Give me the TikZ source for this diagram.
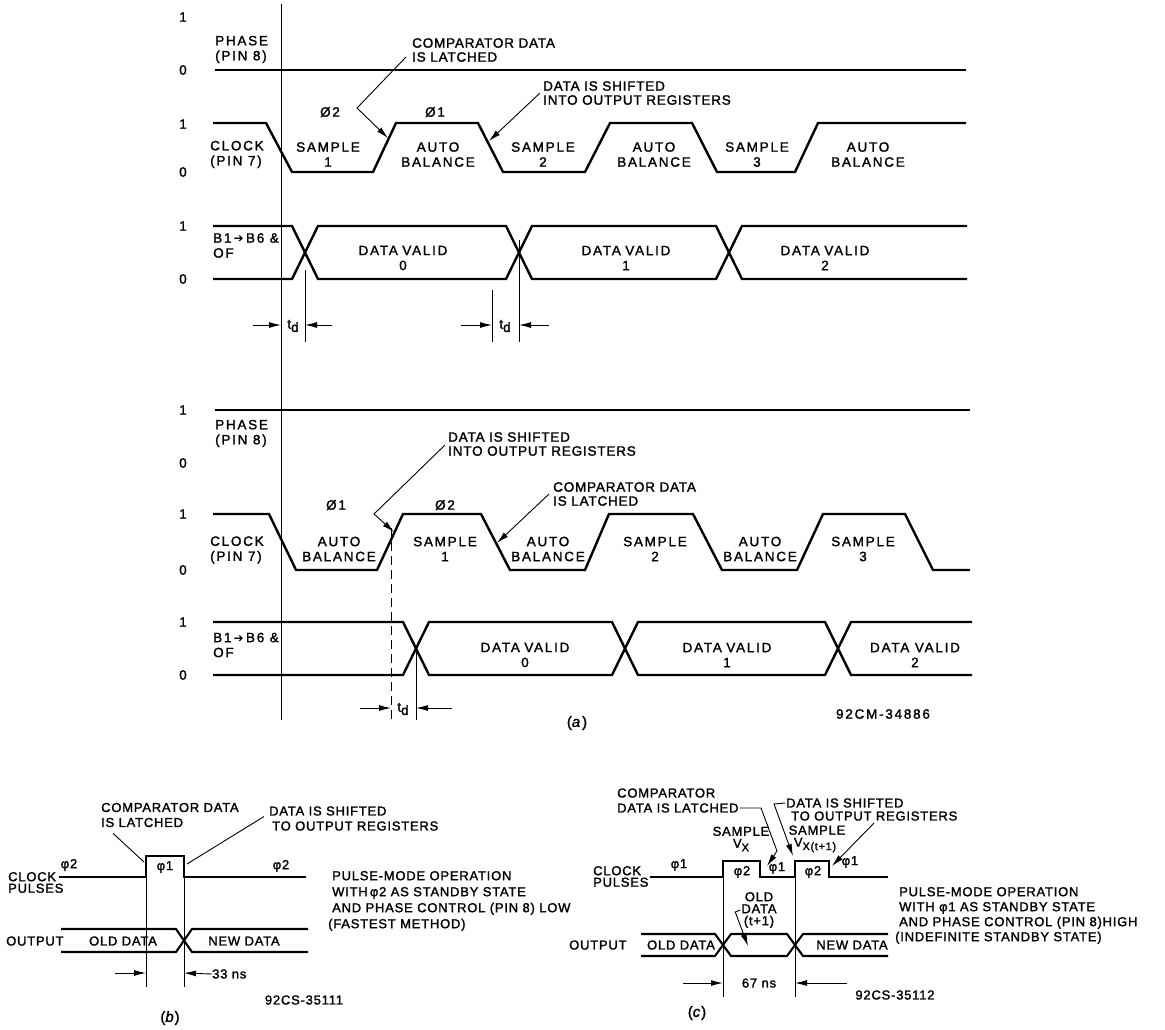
\documentclass[tikz,border=0pt]{standalone}
\usepackage{fontspec}
\setmainfont{Liberation Sans}
\newfontfamily\wavefont[LetterSpace=13,FakeBold=1.6]{Liberation Sans}
\newfontfamily\notefont[LetterSpace=6,FakeBold=1.6]{Liberation Sans}
\newfontfamily\arrowfont{DejaVu Sans}
\usetikzlibrary{arrows.meta}

\newcommand{\tdlabel}{t\raisebox{-0.45ex}{d}}
\newcommand{\busname}{B1\,{\arrowfont\fontsize{12}{12}\selectfont ➔}\,B6 \&}

\tikzset{
  wave/.style={line width=2.4pt, line join=miter},
  wavesm/.style={line width=2.1pt, line join=miter},
  thinline/.style={line width=0.9pt},
  arr/.style={-{Latex[length=12pt,width=6pt]}},
  lbl/.style={inner sep=0pt, align=center, font=\wavefont\fontsize{13.5}{15}\selectfont},
  note/.style={inner sep=0pt, align=left, font=\notefont\fontsize{13.5}{14}\selectfont},
  noteb/.style={inner sep=0pt, align=center, font=\notefont\fontsize{13}{15}\selectfont},
}

\begin{document}
\begin{tikzpicture}[x=1pt,y=-1pt]
    \useasboundingbox (0,0) rectangle (1165,1029);

    %levels
    \foreach \y in {17,124,226,410,514,622} \node[lbl] at (183,\y) {1};
    \foreach \y in {70,172,279,463,570,675} \node[lbl] at (183,\y) {0};

    %reference line
    \draw[thinline] (281,4) -- (281,720);

    %(a) upper: phase low
    \node[lbl, anchor=west, align=left] (ph1) at (215,49.5) {PHASE\\(PIN 8)};
    \draw[wave] (215,70) -- (966,70);

    \node[lbl, anchor=west, align=left] (ck1) at (210,154.5) {CLOCK\\(PIN 7)};
    \draw[wave] (213,123) -- (266,123) -- (292,172) -- (373,172) -- (396,123) -- (478,123) -- (503,172)
        -- (585,172) -- (610,123) -- (692,123) -- (717,172) -- (795,172) -- (818,123) -- (966,123);
    \node[lbl] (s1) at (328,154.5) {SAMPLE\\1};
    \node[lbl] (b1) at (438,154.5) {AUTO\\BALANCE};
    \node[lbl] (s2) at (543,154.5) {SAMPLE\\2};
    \node[lbl] (b2) at (654,154.5) {AUTO\\BALANCE};
    \node[lbl] (s3) at (757,154.5) {SAMPLE\\3};
    \node[lbl] (b3) at (868,154.5) {AUTO\\BALANCE};
    \node[lbl] (p2) at (330,112) {Ø2};
    \node[lbl] (p1) at (435,112) {Ø1};

    %leaders
    \node[note, anchor=west] (lat1) at (412,50) {COMPARATOR DATA\\IS LATCHED};
    \coordinate (e1) at (388,138);
    \draw[thinline, arr] ([shift={(-6,7)}]lat1.west) -- (357,108) -- (e1);
    \node[note, anchor=west] (sh1) at (543,93) {DATA IS SHIFTED\\INTO OUTPUT REGISTERS};
    \coordinate (e2) at (489,141);
    \draw[thinline, arr] ([shift={(-3,0)}]sh1.west) -- (e2);

    %data bus
    \node[lbl, anchor=west, align=left] (bus1) at (213,245.5) {\busname\\OF};
    \draw[wave] (213,226) -- (292,226) -- (305,252.5) -- (318,226) -- (506,226) -- (519,252.5) -- (532,226)
        -- (716,226) -- (729,252.5) -- (742,226) -- (967,226);
    \draw[wave] (213,279) -- (292,279) -- (305,252.5) -- (318,279) -- (506,279) -- (519,252.5) -- (532,279)
        -- (716,279) -- (729,252.5) -- (742,279) -- (967,279);
    \node[lbl] (d0) at (403,258) {DATA\,\,VALID\\0};
    \node[lbl] (d1) at (626,258) {DATA\,\,VALID\\1};
    \node[lbl] (d2) at (825,258) {DATA\,\,VALID\\2};

    %t_d
    \draw[thinline] (305,270) -- (305,342);
    \draw[thinline] (492,290) -- (492,342);
    \draw[thinline] (519,240) -- (519,342);
    \node[lbl] (td1) at (293,326) {\tdlabel};
    \node[lbl] (td2) at (505,326) {\tdlabel};
    \draw[thinline, arr] (253,325) -- (281,325);
    \draw[thinline, arr] (332,325) -- (305,325);
    \draw[thinline, arr] (461,325) -- (492,325);
    \draw[thinline, arr] (549,325) -- (519,325);

    %(a) lower: phase high
    \node[lbl, anchor=west, align=left] (ph2) at (215,433.5) {PHASE\\(PIN 8)};
    \draw[wave] (215,410) -- (970,410);

    \node[lbl, anchor=west, align=left] (ck2) at (210,550) {CLOCK\\(PIN 7)};
    \draw[wave] (213,514) -- (269,514) -- (296,570) -- (377,570) -- (403,514) -- (481,514) -- (510,570)
        -- (585,570) -- (609,514) -- (693,514) -- (722,570) -- (797,570) -- (823,514) -- (905,514)
        -- (933,570) -- (970,570);
    \node[lbl] (b4) at (339,549) {AUTO\\BALANCE};
    \node[lbl] (s4) at (445,549) {SAMPLE\\1};
    \node[lbl] (b5) at (548,549) {AUTO\\BALANCE};
    \node[lbl] (s5) at (655,549) {SAMPLE\\2};
    \node[lbl] (b6) at (760,549) {AUTO\\BALANCE};
    \node[lbl] (s6) at (863,549) {SAMPLE\\3};
    \node[lbl] (p3) at (336,505) {Ø1};
    \node[lbl] (p4) at (445,505) {Ø2};

    %leaders
    \node[note, anchor=west] (sh2) at (448,444) {DATA IS SHIFTED\\INTO OUTPUT REGISTERS};
    \coordinate (e3) at (394,532);
    \draw[thinline, arr] ([shift={(-3,1)}]sh2.west) -- (374,514) -- (e3);
    \node[note, anchor=west] (lat2) at (553,494) {COMPARATOR DATA\\IS LATCHED};
    \coordinate (e4) at (497,543);
    \draw[thinline, arr] ([shift={(-4,0)}]lat2.west) -- (e4);

    %data bus
    \node[lbl, anchor=west, align=left] (bus2) at (213,645) {\busname\\OF};
    \draw[wave] (213,622) -- (403,622) -- (416,648.5) -- (429,622) -- (612,622) -- (625,648.5) -- (638,622)
        -- (825,622) -- (838,648.5) -- (851,622) -- (972,622);
    \draw[wave] (213,675) -- (403,675) -- (416,648.5) -- (429,675) -- (612,675) -- (625,648.5) -- (638,675)
        -- (825,675) -- (838,648.5) -- (851,675) -- (972,675);
    \node[lbl] (d3) at (525,655) {DATA\,\,VALID\\0};
    \node[lbl] (d4) at (727,655) {DATA\,\,VALID\\1};
    \node[lbl] (d5) at (915,655) {DATA VALID\\2};

    %t_d
    \draw[thinline, dashed, dash pattern=on 9pt off 5pt] (391,528) -- (391,722);
    \draw[thinline] (416,648) -- (416,720);
    \node[lbl] (td3) at (403,709) {\tdlabel};
    \draw[thinline, arr] (360,708) -- (391,708);
    \draw[thinline, arr] (452,708) -- (416,708);

    \node[lbl] (fa) at (883,714) {92CM-34886};
    \node[lbl, font=\wavefont\fontsize{15}{15}\selectfont] (capa) at (577,723) {(\textit{a})};

    %(b)
    \node[noteb, anchor=west, align=left, font=\notefont\fontsize{13}{11.5}\selectfont] (ckb) at (8,882.5) {CLOCK\\PULSES};
    \draw[wavesm] (59,877) -- (146,877) -- (146,856) -- (184,856) -- (184,877) -- (306,877);
    \node[noteb] (pb1) at (69,865) {φ2};
    \node[noteb] (pb2) at (165,867) {φ1};
    \node[noteb] (pb3) at (281,866) {φ2};
    \node[noteb, anchor=west, align=left] (latb) at (101,815) {COMPARATOR DATA\\IS LATCHED};
    \draw[thinline] ([shift={(12,6)}]latb.south west) -- (144,862);
    \node[noteb, anchor=west, align=left] (shb) at (269,818.5) {DATA IS SHIFTED\\\hspace*{3pt}TO OUTPUT REGISTERS};
    \draw[thinline] ([shift={(-5,-2)}]shb.west) -- (187,864);
    \draw[thinline] (146,877) -- (146,987);
    \draw[thinline] (184,877) -- (184,987);

    \node[noteb, anchor=west] (outb) at (6,941) {OUTPUT};
    \draw[wavesm] (61,929) -- (176,929) -- (184,940.5) -- (192,929) -- (308,929);
    \draw[wavesm] (61,952) -- (176,952) -- (184,940.5) -- (192,952) -- (308,952);
    \node[noteb] (oldb) at (123,941) {OLD DATA};
    \node[noteb] (newb) at (244,941) {NEW DATA};
    \node[noteb, anchor=west] (nsb) at (212,974) {33 ns};
    \draw[thinline, arr] (115,973) -- (146,973);
    \draw[thinline, arr] (nsb.west) -- (184,973);
    \node[noteb, anchor=west, align=left, font=\notefont\fontsize{13}{16}\selectfont] (modeb) at (332,901)
        {PULSE-MODE OPERATION\\WITH\,φ2 AS STANDBY STATE\\AND PHASE CONTROL (PIN 8) LOW\\\hspace*{-4pt}(FASTEST METHOD)};
    \node[noteb] (fb) at (304,1000) {92CS-35111};
    \node[noteb, font=\notefont\fontsize{15}{15}\selectfont] (capb) at (170,1018) {(\textit{b})};

    %(c)
    \node[noteb, anchor=west, align=left, font=\notefont\fontsize{13}{11.5}\selectfont] (ckc) at (593,876.5) {CLOCK\\PULSES};
    \draw[wavesm] (650,877) -- (723,877) -- (723,861) -- (760,861) -- (760,877) -- (795,877) -- (795,861)
        -- (829,861) -- (829,877) -- (888,877);
    \node[noteb] (pc1) at (679,865) {φ1};
    \node[noteb] (pc2) at (742,872) {φ2};
    \node[noteb] (pc3) at (777,868) {φ1};
    \node[noteb] (pc4) at (813,872) {φ2};
    \node[noteb] (pc5) at (850,862) {φ1};
    \node[noteb, font=\notefont\fontsize{13}{12}\selectfont] (smc1) at (741,839)
        {SAMPLE\\V\raisebox{-0.5ex}{\fontsize{11}{11}\selectfont X}};
    \node[noteb, font=\notefont\fontsize{13}{12}\selectfont] (smc2) at (817,839)
        {SAMPLE\\\hspace*{-4pt}V\raisebox{-0.5ex}{\fontsize{11}{11}\selectfont X(t+1)}};

    \node[noteb, anchor=west] (latc1) at (617,793) {COMPARATOR};
    \node[noteb, anchor=west] (latc2) at (617,808) {DATA IS LATCHED};
    \draw[thinline, arr] ([xshift=1pt]latc2.east) -- (761,808) -- (777,851) -- (767,866);
    \node[noteb, anchor=west] (shc1) at (786,803) {DATA IS SHIFTED};
    \node[noteb, anchor=west] (shc2) at (791,816) {TO OUTPUT REGISTERS};
    \draw[thinline, arr] ([xshift=-1pt]shc1.west) -- (774,804) -- (793,856);
    \draw[thinline, arr] ([yshift=-2pt]shc2.south) -- (832,866);

    \draw[thinline] (723,861) -- (723,997);
    \draw[thinline] (795,861) -- (795,997);
    \node[noteb, anchor=west] (outc) at (569,945) {OUTPUT};
    \draw[wavesm] (641,934) -- (715,934) -- (723,945) -- (731,934) -- (787,934) -- (795,945) -- (803,934) -- (888,934);
    \draw[wavesm] (641,956) -- (715,956) -- (723,945) -- (731,956) -- (787,956) -- (795,945) -- (803,956) -- (888,956);
    \node[noteb] (oldc) at (681,945) {OLD DATA};
    \node[noteb] (newc) at (852,945) {NEW DATA};
    \node[noteb, font=\notefont\fontsize{13}{12}\selectfont] (oldt) at (759,910) {OLD\\DATA\\(t+1)};
    \draw[thinline, arr] ([xshift=-1pt]oldt.west) -- ++(-5,2) -- (748,946);
    \node[noteb] (nsc) at (759,983) {67 ns};
    \draw[thinline, arr] (683,983) -- (723,983);
    \draw[thinline, arr] (847,983) -- (795,983);
    \node[noteb, anchor=west, align=left, font=\notefont\fontsize{13}{15}\selectfont] (modec) at (899,915.5)
        {PULSE-MODE OPERATION\\WITH φ1 AS STANDBY STATE\\AND PHASE CONTROL (PIN 8)HIGH\\\hspace*{-4pt}(INDEFINITE STANDBY STATE)};
    \node[noteb] (fc) at (895,995) {92CS-35112};
    \node[noteb, font=\notefont\fontsize{15}{15}\selectfont] (capc) at (697,1013) {(\textit{c})};
\end{tikzpicture}
\end{document}
